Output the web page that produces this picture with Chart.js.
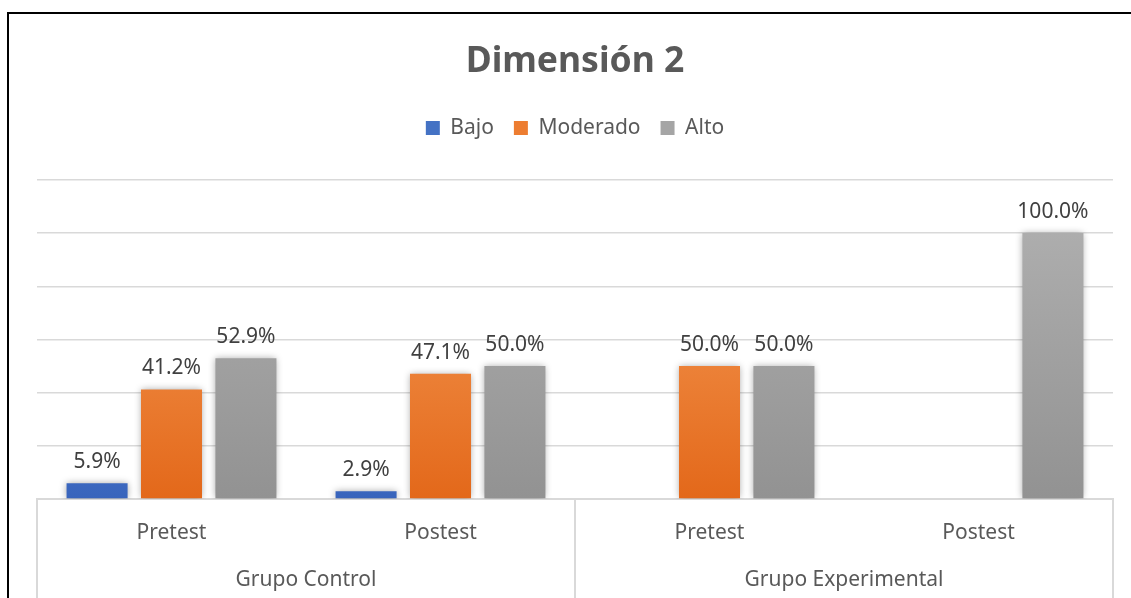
<!DOCTYPE html>
<html>
<head>
<meta charset="utf-8">
<script src="https://cdn.jsdelivr.net/npm/chart.js@4/dist/chart.umd.min.js"></script>
<style>
    body { margin: 0; background: #fff; }
    #wrap { position: relative; width: 1131px; height: 598px; overflow: hidden; }
    #frame { position: absolute; left: 7px; top: 12px; right: -4px; bottom: -4px;
             border-left: 2px solid #000; border-top: 2px solid #000; pointer-events: none; }
</style>
</head>
<body>
<div id="wrap">
    <canvas id="chart" width="1131" height="598"></canvas>
    <div id="frame"></div>
</div>
<script>
// Data
const subCategories = ["Pretest", "Postest", "Pretest", "Postest"];
const groups = ["Grupo Control", "Grupo Experimental"];
const seriesNames = ["Bajo", "Moderado", "Alto"];
const bajo = [5.9, 2.9, null, null];
const moderado = [41.2, 47.1, 50.0, null];
const alto = [52.9, 50.0, 50.0, 100.0];
const yMax = 120;
const yStep = 20;

const FONT = '"Noto Sans", "Open Sans", sans-serif';
// flat colours for the legend swatches
const swatches = ["#4472c4", "#ed7d31", "#a5a5a5"];

// Vertical Excel-like gradient, spanning 0..100% of the value axis
function barFill(top, bottom) {
    return (c) => {
        const chart = c.chart;
        const area = chart.chartArea;
        if (!area) return bottom;
        const g = chart.ctx.createLinearGradient(0, chart.scales.y.getPixelForValue(100), 0, area.bottom);
        g.addColorStop(0, top);
        g.addColorStop(1, bottom);
        return g;
    };
}

// Soft shadow around bars
const barShadow = {
    id: "barShadow",
    beforeDatasetsDraw(chart) {
        const ctx = chart.ctx;
        ctx.save();
        ctx.shadowColor = "rgba(0,0,0,0.35)";
        ctx.shadowBlur = 7;
    },
    afterDatasetsDraw(chart) {
        chart.ctx.restore();
    }
};

// Value labels above each bar
const barLabels = {
    id: "barLabels",
    afterDatasetsDraw(chart) {
        const ctx = chart.ctx;
        ctx.save();
        ctx.font = "21px " + FONT;
        ctx.fillStyle = "#404040";
        ctx.textAlign = "center";
        ctx.textBaseline = "alphabetic";
        chart.data.datasets.forEach((ds, i) => {
            chart.getDatasetMeta(i).data.forEach((bar, j) => {
                const v = ds.data[j];
                if (v == null) return;
                ctx.fillText(v.toFixed(1) + "%", bar.x, bar.y - 15);
            });
        });
        ctx.restore();
    }
};

// Separator lines of the two-level category axis
const groupLines = {
    id: "groupLines",
    afterDraw(chart) {
        const { ctx, chartArea } = chart;
        const x = chart.scales.x;
        const perGroup = subCategories.length / groups.length;
        ctx.save();
        ctx.strokeStyle = "#d9d9d9";
        ctx.lineWidth = 2;
        for (let g = 0; g <= groups.length; g++) {
            const px = x.getPixelForValue(g * perGroup - 0.5);
            ctx.beginPath();
            ctx.moveTo(px, chartArea.bottom);
            ctx.lineTo(px, chart.height);
            ctx.stroke();
        }
        ctx.restore();
    }
};

const ctx = document.getElementById("chart").getContext("2d");
new Chart(ctx, {
    type: "bar",
    data: {
        labels: subCategories,
        datasets: [
            { label: seriesNames[0], data: bajo, backgroundColor: barFill("#6a98e6", "#3864bc") },
            { label: seriesNames[1], data: moderado, backgroundColor: barFill("#f59a55", "#e3681a") },
            { label: seriesNames[2], data: alto, backgroundColor: barFill("#adadad", "#929292") }
        ]
    },
    options: {
        responsive: false,
        animation: false,
        devicePixelRatio: 1,
        categoryPercentage: 0.83,
        barPercentage: 0.82,
        layout: { padding: { left: 37, right: 18, top: 0, bottom: 0 } },
        plugins: {
            tooltip: { enabled: false },
            title: {
                display: true,
                text: "Dimensión 2",
                color: "#595959",
                font: { family: FONT, size: 35.5, weight: "bold" },
                padding: { top: 40.7, bottom: 14.1 }
            },
            legend: {
                weight: 1800,
                labels: {
                    color: "#595959",
                    font: { family: FONT, size: 21 },
                    boxWidth: 14,
                    boxHeight: 14,
                    padding: 20,
                    generateLabels(chart) {
                        const items = Chart.defaults.plugins.legend.labels.generateLabels(chart);
                        items.forEach((it, i) => {
                            it.fillStyle = swatches[i];
                            it.strokeStyle = swatches[i];
                            it.lineWidth = 0;
                        });
                        return items;
                    }
                }
            },
            subtitle: {
                // empty spacer between legend and plot
                display: true,
                text: "",
                padding: { top: 0, bottom: 17.1 }
            }
        },
        scales: {
            x: {
                weight: 0,
                grid: { display: false, drawTicks: false },
                border: { color: "#d9d9d9", width: 2 },
                ticks: { color: "#595959", font: { family: FONT, size: 21 }, padding: 21 },
                afterFit(scale) { scale.height = 46; }
            },
            x2: {
                type: "category",
                labels: groups,
                position: "bottom",
                offset: true,
                weight: 1,
                grid: { display: false, drawTicks: false },
                border: { display: false },
                ticks: { color: "#595959", font: { family: FONT, size: 21 }, padding: 22 },
                afterFit(scale) { scale.height = 53; }
            },
            y: {
                min: 0,
                max: yMax,
                ticks: { display: false, stepSize: yStep },
                border: { display: false },
                grid: { color: "#d9d9d9", lineWidth: 1.5, drawTicks: false },
                afterFit(scale) { scale.width = 0; }
            }
        }
    },
    plugins: [barShadow, barLabels, groupLines]
});
</script>
</body>
</html>
